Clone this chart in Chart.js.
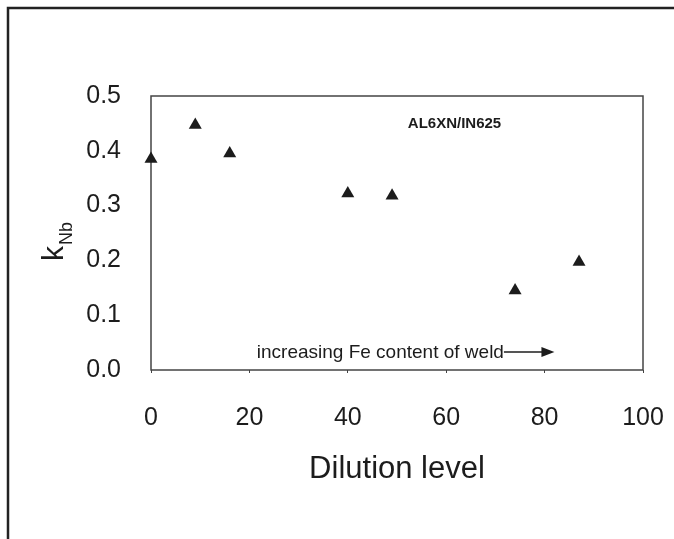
<!DOCTYPE html>
<html>
<head>
<meta charset="utf-8">
<script src="https://cdn.jsdelivr.net/npm/chart.js@4.4.1/dist/chart.umd.min.js"></script>
<style>
  html, body { margin: 0; padding: 0; background: #fff; }
  canvas { display: block; }
</style>
</head>
<body>
<canvas id="chart" width="674" height="539"></canvas>
<script>
// dilution level of the weld vs. Nb partition coefficient
const dilution = [0, 9, 16, 40, 49, 74, 87];
const kNb = [0.385, 0.447, 0.395, 0.322, 0.318, 0.145, 0.197];

const xTicks = [0, 20, 40, 60, 80, 100];
const yTicks = [0.0, 0.1, 0.2, 0.3, 0.4, 0.5];

const FONT = "'Liberation Sans', Arial, sans-serif";
const INK = "#1c1c1c";

const points = dilution.map((d, i) => ({ x: d, y: kNb[i] }));

// frame, plot box, axis titles and the two notes inside the plot
const decorations = {
  id: "decorations",
  beforeDraw(chart) {
    const ctx = chart.ctx;
    ctx.save();
    ctx.strokeStyle = "#222";
    ctx.lineWidth = 2.5;
    ctx.beginPath();
    ctx.moveTo(674, 8);
    ctx.lineTo(8, 8);
    ctx.lineTo(8, 539);
    ctx.stroke();
    ctx.restore();
  },
  beforeDatasetsDraw(chart) {
    const ctx = chart.ctx;
    const a = chart.chartArea;
    ctx.save();
    ctx.strokeStyle = "#444";
    ctx.lineWidth = 1.5;
    ctx.strokeRect(a.left, a.top, a.right - a.left, a.bottom - a.top);
    ctx.restore();
  },
  afterDraw(chart) {
    const ctx = chart.ctx;
    const a = chart.chartArea;
    const xs = chart.scales.x;
    const ys = chart.scales.y;
    ctx.save();
    ctx.fillStyle = INK;

    // x title
    ctx.font = "31px " + FONT;
    ctx.textAlign = "center";
    ctx.textBaseline = "alphabetic";
    ctx.fillText("Dilution level", (a.left + a.right) / 2, 478);

    // y title: k with subscript Nb, rotated
    ctx.save();
    ctx.translate(63, 261);
    ctx.rotate(-Math.PI / 2);
    ctx.textAlign = "left";
    ctx.font = "30px " + FONT;
    ctx.fillText("k", 0, 0);
    const kw = ctx.measureText("k").width;
    ctx.font = "18px " + FONT;
    ctx.fillText("Nb", kw + 1, 9);
    ctx.restore();

    // alloy pair label
    ctx.font = "bold 15px " + FONT;
    ctx.textAlign = "left";
    ctx.textBaseline = "middle";
    ctx.fillText("AL6XN/IN625", xs.getPixelForValue(52.2), ys.getPixelForValue(0.45));

    // note with arrow
    ctx.font = "19px " + FONT;
    const nx = xs.getPixelForValue(21.5);
    const ny = ys.getPixelForValue(0.031);
    ctx.fillText("increasing Fe content of weld", nx, ny);
    const tw = ctx.measureText("increasing Fe content of weld").width;
    const tip = xs.getPixelForValue(82);
    ctx.strokeStyle = INK;
    ctx.lineWidth = 1.5;
    ctx.beginPath();
    ctx.moveTo(nx + tw, ny - 1);
    ctx.lineTo(tip - 10, ny - 1);
    ctx.stroke();
    ctx.beginPath();
    ctx.moveTo(tip, ny - 1);
    ctx.lineTo(tip - 13, ny - 6);
    ctx.lineTo(tip - 13, ny + 4);
    ctx.closePath();
    ctx.fill();

    ctx.restore();
  }
};

new Chart(document.getElementById("chart"), {
  type: "scatter",
  data: {
    datasets: [{
      data: points,
      pointStyle: "triangle",
      pointRadius: 7.5,
      backgroundColor: INK,
      borderColor: INK,
      borderWidth: 0,
      clip: false
    }]
  },
  options: {
    responsive: false,
    animation: false,
    devicePixelRatio: 1,
    layout: { padding: { left: 0, top: 96, right: 31, bottom: 0 } },
    plugins: { legend: { display: false }, tooltip: { enabled: false } },
    scales: {
      x: {
        type: "linear",
        min: xTicks[0],
        max: xTicks[xTicks.length - 1],
        afterBuildTicks: (s) => { s.ticks = xTicks.map(v => ({ value: v })); },
        afterFit: (s) => {
          s.height = 169;
          s.paddingLeft = 0;
          s.paddingRight = 0;
        },
        border: { display: false },
        grid: { drawOnChartArea: false, tickLength: 3, color: "#444" },
        ticks: {
          padding: 30,
          maxRotation: 0,
          color: INK,
          font: { family: FONT, size: 25 },
          callback: (v) => String(v)
        }
      },
      y: {
        type: "linear",
        min: yTicks[0],
        max: yTicks[yTicks.length - 1],
        afterBuildTicks: (s) => { s.ticks = yTicks.map(v => ({ value: v })); },
        afterFit: (s) => {
          s.width = 151;
          s.paddingTop = 0;
          s.paddingBottom = 0;
        },
        border: { display: false },
        grid: { display: false },
        ticks: {
          padding: 22,
          color: INK,
          font: { family: FONT, size: 25 },
          callback: (v) => Number(v).toFixed(1)
        }
      }
    }
  },
  plugins: [decorations]
});
</script>
</body>
</html>
